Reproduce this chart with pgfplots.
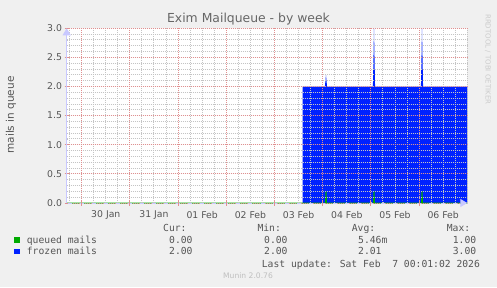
\documentclass[border=0pt]{standalone}
\usepackage{fontspec}
\setmainfont{DejaVu Sans}
\newfontfamily\monofont{DejaVu Sans Mono}
\usepackage{pgfplots}
\pgfplotsset{compat=1.18}
\usetikzlibrary{arrows.meta}
\definecolor{bg}{HTML}{F0F0F0}
\definecolor{fgtext}{HTML}{555555}
\definecolor{titletext}{HTML}{666666}
\definecolor{axiscol}{HTML}{C8C8FF}
\definecolor{mgrid}{HTML}{E09090}
\definecolor{mingrid}{HTML}{C4C4C4}
\definecolor{qgreen}{HTML}{00AA00}
\definecolor{fblue}{HTML}{0022FF}
\begin{document}
\begin{tikzpicture}[x=1pt,y=1pt]
\fill[bg] (0,0) rectangle (497,287);
\begin{axis}[
  at={(66.7pt,84pt)}, anchor=south west,
  scale only axis, width=400.6pt, height=174.7pt,
  xmin=-0.311, xmax=8, ymin=0, ymax=3,
  axis background/.style={fill=white},
  axis on top,
  axis x line=bottom, axis y line=left,
  x axis line style={draw=axiscol, line width=1pt, dash pattern=on 0pt off 1pt on 4pt off 7.05pt, -{Triangle[length=7pt,width=8pt]}},
  y axis line style={draw=axiscol, line width=1pt, -{Triangle[length=7pt,width=8pt]}},
  xtick={0.5,1.5,...,7.5},
  xticklabels={30 Jan,31 Jan,01 Feb,02 Feb,03 Feb,04 Feb,05 Feb,06 Feb},
  major x tick style={draw=none},
  minor xtick={-0.25,0,...,8},
  xminorgrids=true,
  extra x ticks={0,1,...,7},
  extra x tick labels={},
  extra x tick style={grid=major, major x tick style={draw=mgrid, line width=1pt}, major tick length=5pt},
  ytick={0,0.5,...,3},
  minor ytick={0,0.1,...,3},
  ymajorgrids=true, yminorgrids=true,
  major grid style={draw=mgrid, line width=1pt, dash pattern=on 1pt off 1pt},
  minor grid style={draw=mingrid, line width=1pt, dash pattern=on 1pt off 1pt},
  major y tick style={draw=mgrid, line width=1pt},
  minor tick style={draw=mingrid, line width=0.8pt},
  tick align=center, major tick length=4pt, minor tick length=2pt,
  y tick label style={/pgf/number format/fixed, /pgf/number format/fixed zerofill, /pgf/number format/precision=1, /pgf/number format/assume math mode=true},
  ticklabel style={font=\fontsize{9.3}{11}\selectfont, text=fgtext},
  yticklabel style={anchor=east, inner sep=0pt, xshift=-2.5pt},
  xticklabel style={anchor=center, inner sep=0pt, yshift=-9.7pt},
]
\addplot[fill=fblue, draw=none] coordinates {
  (4.585,2) (5.046,2) (5.068,2.2) (5.09,2) (6.042,2) (6.064,3.0) (6.086,2)
  (7.038,2) (7.06,3.0) (7.082,2) (8,2)
} \closedcycle;
\addplot[draw=qgreen, line width=1pt] coordinates {
  (-0.311,0) (5.058,0) (5.068,0.2) (5.078,0) (6.054,0) (6.064,0.2) (6.074,0)
  (7.05,0) (7.06,0.2) (7.07,0) (8,0)
};
\end{axis}
\node[font=\fontsize{12.4}{14}\selectfont, text=titletext] at (248.5,268) {Exim Mailqueue - by week};
\node[rotate=90, font=\fontsize{10.5}{12}\selectfont, text=fgtext] at (11,172) {mails in queue};
\node[rotate=-90, anchor=west, inner sep=0pt, font=\fontsize{7}{8}\selectfont, text=black!20] at (488,273) {RRDTOOL / TOBI OETIKER};
\begin{scope}[every node/.style={anchor=base west, inner sep=0pt, font=\monofont\fontsize{9.7}{11}\selectfont, text=fgtext}]
\node at (163,56) {Cur:};
\node at (257.3,56) {Min:};
\node at (351.7,56) {Avg:};
\node at (446.7,56) {Max:};
\fill[qgreen] (14,44.5) rectangle (20,50);
\node at (26.7,44) {queued mails};
\node at (169,44) {0.00};
\node at (264,44) {0.00};
\node at (358,44) {5.46m};
\node at (452.7,44) {1.00};
\fill[fblue] (14,33) rectangle (20,38.5);
\node at (26.7,32.7) {frozen mails};
\node at (169,32.7) {2.00};
\node at (264,32.7) {2.00};
\node at (358,32.7) {2.01};
\node at (452.7,32.7) {3.00};
\node at (261.7,19.7) {Last update: Sat Feb\ \ 7 00:01:02 2026};
\end{scope}
\node[font=\fontsize{7.6}{9}\selectfont, text=black!25] at (248,11) {Munin 2.0.76};
\end{tikzpicture}
\end{document}
